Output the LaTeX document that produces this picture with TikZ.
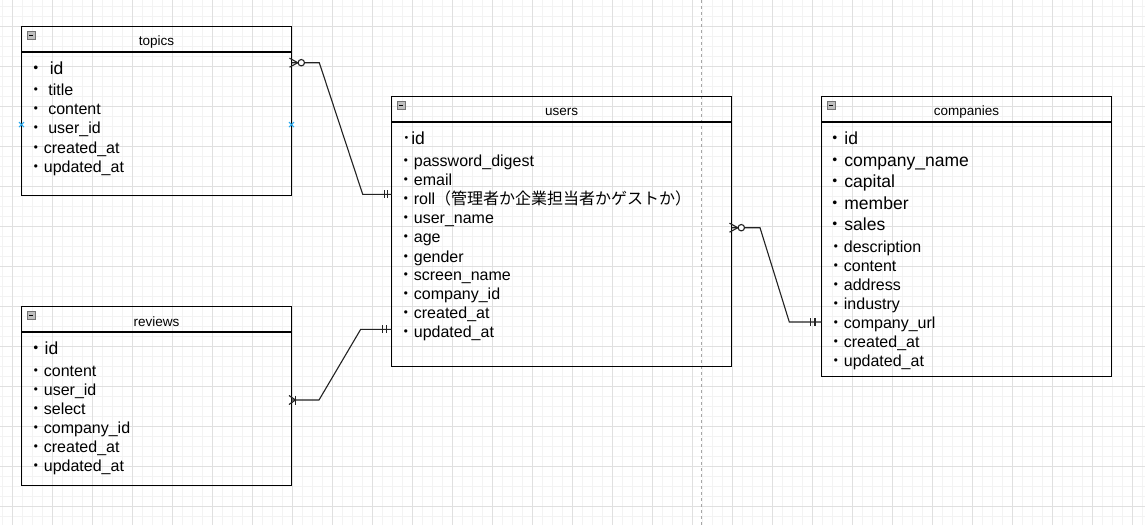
\documentclass[tikz,border=0pt]{standalone}
\usepackage{fontspec}
\setmainfont{Liberation Sans}
\newfontfamily\jp{Noto Sans CJK JP}
\usetikzlibrary{calc}
\newcommand\fsz[1]{\fontsize{#1}{#1}\selectfont}
\newcommand\bul{{\jp ・}}
\newcommand\hbul{{\jp ･}}
\definecolor{gridminor}{RGB}{243,243,243}
\definecolor{gridmajor}{RGB}{224,224,224}
\definecolor{conncol}{RGB}{34,34,34}
\definecolor{hintblue}{RGB}{41,170,240}
\begin{document}
\begin{tikzpicture}[x=1pt,y=-1pt,
  tbl/.style={draw=black, line width=1.2pt, inner sep=0pt, outer sep=0pt},
  hline/.style={draw=black, line width=1.2pt},
  hdr/.style={font=\fsz{13.5}, inner sep=0pt, yshift=-2pt},
  row/.style={anchor=mid west, inner sep=0pt, font=\fsz{16}, yshift=-3pt},
  big/.style={font=\fsz{17.5}},
  conn/.style={draw=conncol, line width=1.1pt},
  iconbox/.style={draw=black!55, fill=black!25, line width=0.7pt},
  minorline/.style={draw=gridminor, line width=0.8pt},
  majorline/.style={draw=gridmajor, line width=0.8pt},
  bluex/.style={draw=hintblue, line width=1pt}]
\useasboundingbox (0,0) rectangle (1145,525);
\fill[white] (0,0) rectangle (1145,525);
% grid
\foreach \x in {2,12,...,1142} \draw[minorline] (\x,0) -- (\x,525);
\foreach \y in {6,16,...,516} \draw[minorline] (0,\y) -- (1145,\y);
\foreach \x in {12,52,...,1132} \draw[majorline] (\x,0) -- (\x,525);
\foreach \y in {26,66,...,506} \draw[majorline] (0,\y) -- (1145,\y);
\draw[draw=black!35, line width=0.9pt, dash pattern=on 3pt off 3pt] (701.5,0) -- (701.5,525);

% tables
\node[tbl, minimum width=270pt, minimum height=169pt] (topics) at (156.5,111) {};
\node[tbl, minimum width=270pt, minimum height=179pt] (reviews) at (156.5,396) {};
\node[tbl, minimum width=340pt, minimum height=270pt] (users) at (561.5,231.5) {};
\node[tbl, minimum width=290pt, minimum height=280pt] (companies) at (966.5,236.5) {};

\foreach \t in {topics,reviews,users,companies}{
  \draw[hline] ($(\t.north west)+(0,25.5)$) -- ($(\t.north east)+(0,25.5)$);
  \draw[iconbox] ($(\t.north west)+(5.5,5)$) rectangle ++(8,8);
  \draw[draw=black, line width=0.9pt] ($(\t.north west)+(7.3,9)$) -- ++(4.4,0);
}

\node[hdr] (th) at ($(topics.north)+(0,13.5)$) {topics};
\node[hdr] (rh) at ($(reviews.north)+(0,13.5)$) {reviews};
\node[hdr] (uh) at ($(users.north)+(0,13.5)$) {users};
\node[hdr] (ch) at ($(companies.north)+(0,13.5)$) {companies};

% topics rows
\node[row, big] (t1) at (27.2,69.3) {\bul{} id};
\node[row] (t2) at (27.7,90) {\bul{} title};
\node[row] (t3) at (27.7,109.3) {\bul{} content};
\node[row] (t4) at (27.7,128.3) {\bul{} user\_id};
\node[row] (t5) at (27.7,147.7) {\bul created\_at};
\node[row] (t6) at (27.7,166.7) {\bul updated\_at};

% reviews rows
\node[row, big] (r1) at (27,349.3) {\bul id};
\node[row] (r2) at (27.7,370.7) {\bul content};
\node[row] (r3) at (27.7,389.7) {\bul user\_id};
\node[row] (r4) at (27.7,408.7) {\bul select};
\node[row] (r5) at (27.7,427.7) {\bul company\_id};
\node[row] (r6) at (27.7,446.7) {\bul created\_at};
\node[row] (r7) at (27.7,466) {\bul updated\_at};

% users rows
\node[row, big] (u1) at (402.3,139.3) {\hbul id};
\node[row] (u2) at (397.7,160.7) {\bul password\_digest};
\node[row] (u3) at (397.7,180) {\bul email};
\node[row] (u4) at (397.7,198.7) {\bul roll{\jp （管理者か企業担当者かゲストか）}};
\node[row] (u5) at (397.7,217.7) {\bul user\_name};
\node[row] (u6) at (397.7,236.7) {\bul age};
\node[row] (u7) at (397.7,256.7) {\bul gender};
\node[row] (u8) at (397.7,275.3) {\bul screen\_name};
\node[row] (u9) at (397.7,294) {\bul company\_id};
\node[row] (u10) at (397.7,313.3) {\bul created\_at};
\node[row] (u11) at (397.7,332.3) {\bul updated\_at};

% companies rows
\node[row, big] (c1) at (826.7,139.3) {\bul id};
\node[row, big] (c2) at (826.7,161) {\bul company\_name};
\node[row, big] (c3) at (826.7,182.3) {\bul capital};
\node[row, big] (c4) at (826.7,204.3) {\bul member};
\node[row, big] (c5) at (826.7,225) {\bul sales};
\node[row] (c6) at (827.7,246.7) {\bul description};
\node[row] (c7) at (827.7,265.7) {\bul content};
\node[row] (c8) at (827.7,284.7) {\bul address};
\node[row] (c9) at (827.7,304) {\bul industry};
\node[row] (c10) at (827.7,323) {\bul company\_url};
\node[row] (c11) at (827.7,342) {\bul created\_at};
\node[row] (c12) at (827.7,361) {\bul updated\_at};

% hint markers
\coordinate (hl) at ($(topics.west)+(0,13.6)$);
\coordinate (hr) at ($(topics.east)+(0,13.6)$);
\foreach \p in {hl,hr}{
  \draw[bluex] ($(\p)+(-2.5,-2.5)$) -- ($(\p)+(2.5,2.5)$);
  \draw[bluex] ($(\p)+(-2.5,2.5)$) -- ($(\p)+(2.5,-2.5)$);
}

% connector topics - users
\coordinate (a1) at ($(topics.north east)+(0,36.2)$);
\coordinate (a2) at ($(users.north west)+(0,97.8)$);
\draw[conn] (a1) -- ++(27.8,0) -- ($(a2)+(-28.8,0)$) -- (a2);
\draw[conn] ($(a1)+(-2,-4.5)$) -- ($(a1)+(6.3,0)$) -- ($(a1)+(-2,4.5)$);
\draw[conn, fill=white] ($(a1)+(9.8,0)$) circle (3.2);
\draw[conn] ($(a2)+(-7.2,-4)$) -- ++(0,8);
\draw[conn] ($(a2)+(-4.2,-4)$) -- ++(0,8);

% connector reviews - users
\coordinate (b1) at ($(reviews.north east)+(0,93.5)$);
\coordinate (b2) at ($(users.north west)+(0,232.8)$);
\draw[conn] (b1) -- ++(27.5,0) -- ($(b2)+(-30.8,0)$) -- (b2);
\draw[conn] ($(b1)+(-2.5,-4.5)$) -- ($(b1)+(4,0)$) -- ($(b1)+(-2.5,4.5)$);
\draw[conn] ($(b1)+(4,-4.5)$) -- ++(0,9);
\draw[conn] ($(b2)+(-8.8,-4)$) -- ++(0,8);
\draw[conn] ($(b2)+(-4.8,-4)$) -- ++(0,8);

% connector users - companies
\coordinate (d1) at ($(users.north east)+(0,131.2)$);
\coordinate (d2) at ($(companies.north west)+(0,225.5)$);
\draw[conn] (d1) -- ++(28.5,0) -- ($(d2)+(-32.2,0)$) -- (d2);
\draw[conn] ($(d1)+(-2,-4.5)$) -- ($(d1)+(6.3,0)$) -- ($(d1)+(-2,4.5)$);
\draw[conn, fill=white] ($(d1)+(9.8,0)$) circle (3.2);
\draw[conn] ($(d2)+(-10.8,-4)$) -- ++(0,8);
\draw[conn] ($(d2)+(-6.5,-4)$) -- ++(0,8);
\end{tikzpicture}
\end{document}
